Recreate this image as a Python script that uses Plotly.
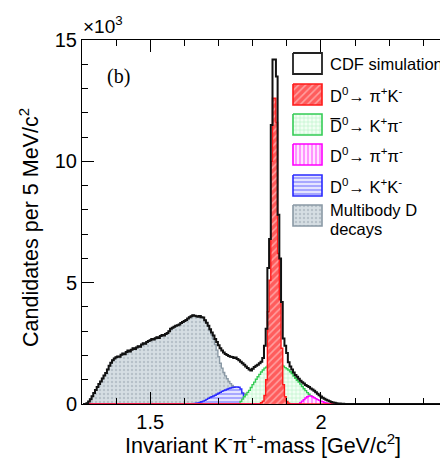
import numpy as np
import plotly.graph_objects as go

# ---------------- data (units of 10^3 candidates per 5 MeV/c^2) ----------------
BIN_START = 1.303          # GeV/c^2, lower edge of first bin
BIN_WIDTH = 0.005          # 5 MeV/c^2
N_BINS = 220

total_start = 0
total_values = [
    0, 0, 0.03, 0.10, 0.20, 0.32, 0.45, 0.58, 0.70, 0.82,
    0.93, 1.05, 1.17, 1.28, 1.42, 1.58, 1.70, 1.80, 1.88, 1.93,
    1.96, 1.95, 2.03, 2.08, 2.05, 2.14, 2.20, 2.16, 2.24, 2.30,
    2.27, 2.33, 2.38, 2.36, 2.45, 2.50, 2.48, 2.55, 2.60, 2.63,
    2.68, 2.66, 2.71, 2.75, 2.72, 2.80, 2.84, 2.82, 2.88, 2.93,
    3.00, 3.10, 3.14, 3.18, 3.22, 3.25, 3.28, 3.34, 3.38, 3.42,
    3.46, 3.52, 3.58, 3.62, 3.66, 3.64, 3.62, 3.60, 3.63, 3.58,
    3.56, 3.45, 3.35, 3.22, 3.08, 2.95, 2.82, 2.68, 2.55, 2.42,
    2.30, 2.20, 2.12, 2.06, 2.02, 1.98, 1.95, 1.94, 1.90, 1.92,
    1.85, 1.80, 1.74, 1.68, 1.62, 1.55, 1.48, 1.42, 1.38, 1.45,
    1.52, 1.58, 1.62, 1.68, 1.74, 1.90, 2.40, 3.10, 5.60, 6.80,
    11.5, 14.2, 14.2, 13.5, 7.8, 6.0, 4.2, 2.7, 2.4, 2.1,
    1.72, 1.55, 1.42, 1.30, 1.20, 1.12, 1.04, 0.96, 0.90, 0.84,
    0.78, 0.74, 0.70, 0.64, 0.60, 0.55, 0.48, 0.42, 0.36, 0.31,
    0.26, 0.22, 0.18, 0.14, 0.11, 0.08, 0.06, 0.05, 0.03, 0.02,
    0.02, 0.01, 0.01,
]

multibody_start = 0
multibody_values = [
    0, 0, 0.03, 0.10, 0.20, 0.32, 0.45, 0.58, 0.70, 0.82,
    0.93, 1.05, 1.17, 1.28, 1.42, 1.58, 1.70, 1.80, 1.88, 1.93,
    1.96, 1.95, 2.03, 2.08, 2.05, 2.14, 2.20, 2.16, 2.24, 2.30,
    2.27, 2.33, 2.38, 2.36, 2.45, 2.50, 2.48, 2.55, 2.60, 2.63,
    2.68, 2.66, 2.71, 2.75, 2.72, 2.80, 2.84, 2.82, 2.88, 2.93,
    3.00, 3.10, 3.14, 3.18, 3.22, 3.25, 3.28, 3.34, 3.38, 3.42,
    3.46, 3.52, 3.58, 3.62, 3.66, 3.64, 3.62, 3.60, 3.63, 3.58,
    3.56, 3.45, 3.35, 3.20, 3.02, 2.85, 2.68, 2.45, 2.22, 1.95,
    1.68, 1.48, 1.30, 1.16, 1.04, 0.93, 0.84, 0.76, 0.69, 0.63,
    0.58, 0.54, 0.50, 0.46, 0.43, 0.40, 0.37, 0.34, 0.31, 0.28,
    0.26, 0.23, 0.20, 0.17, 0.14, 0.10, 0.07, 0.04, 0.02, 0.01,
]

kk_start = 65          # D0 -> K+K-
kk_values = [
    0.02, 0.03, 0.04, 0.06, 0.09, 0.12, 0.15, 0.19, 0.23, 0.27,
    0.30, 0.33, 0.36, 0.40, 0.44, 0.48, 0.52, 0.55, 0.58, 0.61,
    0.64, 0.66, 0.68, 0.69, 0.70, 0.70, 0.69, 0.62, 0.45, 0.25,
    0.08,
]

kpi_wrong_start = 92   # D0bar -> K+pi-
kpi_wrong_values = [
    0.10, 0.20, 0.30, 0.38, 0.48, 0.56, 0.68, 0.80, 0.90, 1.02,
    1.12, 1.22, 1.32, 1.40, 1.48, 1.52, 1.58, 1.62, 1.65, 1.68,
    1.70, 1.66, 1.65, 1.62, 1.60, 1.56, 1.50, 1.45, 1.40, 1.33,
    1.25, 1.15, 1.06, 0.98, 0.90, 0.82, 0.72, 0.63, 0.55, 0.47,
    0.40, 0.34, 0.28, 0.22, 0.17, 0.13, 0.09, 0.06, 0.03, 0.01,
]

pipi_start = 127       # D0 -> pi+pi-
pipi_values = [
    0.05, 0.12, 0.18, 0.25, 0.30, 0.33, 0.33, 0.30, 0.26, 0.22,
    0.18, 0.15, 0.12, 0.09, 0.06, 0.04, 0.02, 0.01,
]

kpi_start = 104        # D0 -> pi+K-
kpi_values = [
    0.05, 0.12, 0.35, 1.0, 3.8, 5.1, 10.0, 12.6, 12.6, 11.6,
    6.2, 4.3, 2.3, 0.8, 0.3, 0.1, 0.03,
]

legend_labels = [
    "CDF simulation",
    "D<sup>0</sup>\u2192 \u03c0<sup>+</sup>K<sup>-</sup>",
    "D\u0305<sup>0</sup>\u2192 K<sup>+</sup>\u03c0<sup>-</sup>",
    "D<sup>0</sup>\u2192 \u03c0<sup>+</sup>\u03c0<sup>-</sup>",
    "D<sup>0</sup>\u2192 K<sup>+</sup>K<sup>-</sup>",
    "Multibody D",
]

# ---------------- layout geometry ----------------
PAGE_OFF = 8                       # default page body margin of the html page
L, R, T, B = 82, 448, 40, 404      # plot area in window pixels
WIN_W, WIN_H = 448, 461
W, H = WIN_W - PAGE_OFF, WIN_H - PAGE_OFF

edges = BIN_START + BIN_WIDTH * np.arange(N_BINS + 1)


def full(start, vals):
    arr = np.zeros(N_BINS)
    arr[start:start + len(vals)] = vals
    return arr


def step_y(arr):
    return np.append(arr, arr[-1])


def px(xp):
    return (xp - L) / (R - L)


def py(yp):
    return (B - yp) / (B - T)


FONT = "Liberation Sans, Arial, sans-serif"

styles = {
    "multibody": dict(line="#8a99a5", bg="#d6dee3", fg="#97a4ae", shape=".", size=4, sol=0.3),
    "kk": dict(line="#2a2aff", bg="#e4e4ff", fg="#3535ff", shape="-", size=4, sol=0.35),
    "wrong": dict(line="#35cc55", bg="#f2fff4", fg="#6fe08c", shape="+", size=4, sol=0.25),
    "pipi": dict(line="#ff00ff", bg="#ffe6ff", fg="#ff33ff", shape="|", size=4, sol=0.45),
    "kpi": dict(line="#ff1a1a", bg="#ff5c5c", fg="rgba(255,255,255,0.85)", shape="/", size=5, sol=0.3),
}

fig = go.Figure()

comp = [
    ("multibody", multibody_start, multibody_values),
    ("kk", kk_start, kk_values),
    ("wrong", kpi_wrong_start, kpi_wrong_values),
    ("pipi", pipi_start, pipi_values),
    ("kpi", kpi_start, kpi_values),
]
for key, start, vals in comp:
    s = styles[key]
    fig.add_trace(go.Scatter(
        x=edges, y=step_y(full(start, vals)), mode="lines",
        line=dict(shape="hv", color=s["line"], width=1.4),
        fill="tozeroy",
        fillpattern=dict(shape=s["shape"], bgcolor=s["bg"], fgcolor=s["fg"],
                         size=s["size"], solidity=s["sol"]),
        showlegend=False, hoverinfo="skip",
    ))

fig.add_trace(go.Scatter(
    x=edges, y=step_y(full(total_start, total_values)), mode="lines",
    line=dict(shape="hv", color="#111111", width=2),
    showlegend=False, hoverinfo="skip",
))

# ---------------- custom legend (window-pixel coordinates on overlay axes) ----------------
leg_keys = [None, "kpi", "wrong", "pipi", "kk", "multibody"]
row_top = [53, 84, 114, 144, 175, 205]
box_x0, box_x1, box_h = 293, 322, 21
for key, top in zip(leg_keys, row_top):
    xs = [box_x0, box_x1, box_x1, box_x0, box_x0]
    ys = [top, top, top + box_h, top + box_h, top]
    if key is None:
        fig.add_trace(go.Scatter(x=xs, y=ys, xaxis="x2", yaxis="y2", mode="lines",
                                 line=dict(color="#222222", width=1.8), fill="toself",
                                 fillcolor="white", showlegend=False, hoverinfo="skip"))
    else:
        s = styles[key]
        fig.add_trace(go.Scatter(x=xs, y=ys, xaxis="x2", yaxis="y2", mode="lines",
                                 line=dict(color=s["line"], width=1.6), fill="toself",
                                 fillpattern=dict(shape=s["shape"], bgcolor=s["bg"], fgcolor=s["fg"],
                                                  size=s["size"], solidity=s["sol"]),
                                 showlegend=False, hoverinfo="skip"))

LEG_FONT = 16.5
annotations = []
text_y = [64, 95, 125, 155, 186, 210]
for lab, ty in zip(legend_labels, text_y):
    annotations.append(dict(x=px(328), y=py(ty), xref="paper", yref="paper", text=lab, showarrow=False,
                            xanchor="left", yanchor="middle",
                            font=dict(family=FONT, size=LEG_FONT, color="black")))
annotations.append(dict(x=px(328), y=py(229), xref="paper", yref="paper", text="decays", showarrow=False,
                        xanchor="left", yanchor="middle",
                        font=dict(family=FONT, size=LEG_FONT, color="black")))
annotations.append(dict(x=px(81), y=py(25), xref="paper", yref="paper", text="\u00d710<sup>3</sup>",
                        showarrow=False, xanchor="left", yanchor="middle",
                        font=dict(family=FONT, size=19, color="black")))
annotations.append(dict(x=px(118), y=py(76), xref="paper", yref="paper", text="(b)", showarrow=False,
                        xanchor="center", yanchor="middle",
                        font=dict(family="Liberation Serif, DejaVu Serif, serif", size=20, color="black")))
# axis titles
annotations.append(dict(x=px(263), y=py(444), xref="paper", yref="paper",
                        text="Invariant K<sup>-</sup>\u03c0<sup>+</sup>-mass [GeV/c<sup>2</sup>]",
                        showarrow=False, xanchor="center", yanchor="middle",
                        font=dict(family=FONT, size=21.5, color="black")))
annotations.append(dict(x=px(29), y=py(228), xref="paper", yref="paper",
                        text="Candidates per 5 MeV/c<sup>2</sup>", textangle=-90,
                        showarrow=False, xanchor="center", yanchor="middle",
                        font=dict(family=FONT, size=21.5, color="black")))

shapes = []
for yv in (5, 10):
    shapes.append(dict(type="line", xref="paper", yref="y", x0=px(446), x1=1.0, y0=yv, y1=yv,
                       line=dict(color="black", width=1)))

fig.update_layout(
    width=W, height=H,
    margin=dict(l=L - PAGE_OFF, r=WIN_W - R, t=T - PAGE_OFF, b=WIN_H - B, autoexpand=False),
    paper_bgcolor="white", plot_bgcolor="white",
    font=dict(family=FONT, size=20, color="black"),
    xaxis=dict(range=[1.3, 1.3 + (R - L) / 341.4], showgrid=False, zeroline=False,
               showline=True, linecolor="black", linewidth=1, mirror="ticks",
               ticks="inside", ticklen=12, tickcolor="black",
               minor=dict(ticks="inside", dtick=0.1, tick0=0, ticklen=6, tickcolor="black", showgrid=False),
               tickvals=[1.5, 2.0], ticktext=["1.5", "2"],
               tickfont=dict(family=FONT, size=20), automargin=False),
    yaxis=dict(range=[0, 15], showgrid=False, zeroline=False,
               showline=True, linecolor="black", linewidth=1, mirror=False,
               ticks="inside", tick0=0, dtick=5, ticklen=12, tickcolor="black",
               minor=dict(ticks="inside", dtick=1, ticklen=6, tickcolor="black", showgrid=False),
               tickfont=dict(family=FONT, size=20), automargin=False),
    xaxis2=dict(range=[L, R], overlaying="x", anchor="y2", visible=False),
    yaxis2=dict(range=[B, T], overlaying="y", anchor="x2", visible=False),
    annotations=annotations,
    shapes=shapes,
    showlegend=False,
)

fig.write_html("out.html")
